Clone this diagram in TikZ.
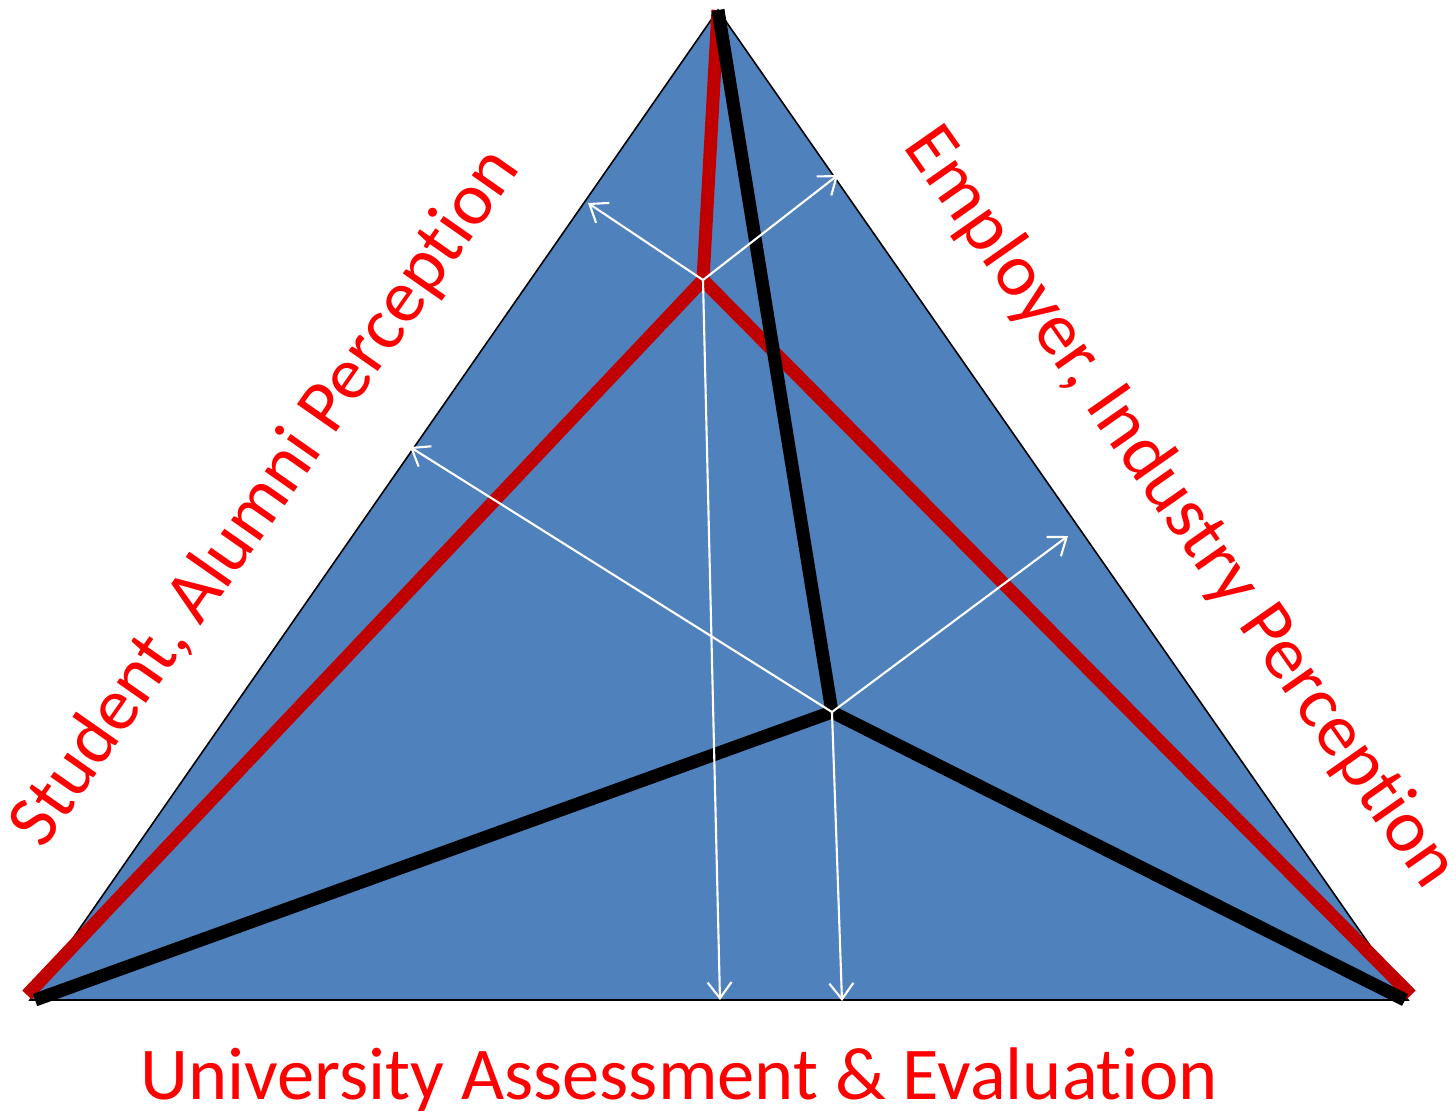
\documentclass[tikz,border=0pt]{standalone}
\usepackage{fontspec}
\setmainfont[Ligatures=NoCommon]{Carlito}
\usepackage{tikz}
\usetikzlibrary{arrows.meta}
\definecolor{fillblue}{HTML}{4F81BD}
\definecolor{darkred}{HTML}{C00000}
\definecolor{textred}{HTML}{FF0000}
\begin{document}
\begin{tikzpicture}[x=0.01cm,y=-0.01cm,
  side/.style={draw=black,line width=0.45pt,fill=fillblue},
  redpath/.style={darkred,line width=3.7pt},
  blackpath/.style={black,line width=3.7pt},
  normal/.style={white,line width=0.6pt,-{Straight Barb[length=1.6mm,width=2.4mm,line width=0.6pt]}},
  label/.style={textred,font=\fontsize{21.2}{25}\selectfont,inner sep=0pt}]
\useasboundingbox (0,0) rectangle (1456,1117);
\coordinate (top) at (718,10);
\coordinate (bl) at (30,1000);
\coordinate (br) at (1408,1000);
\coordinate (r) at (703,280);
\coordinate (k) at (832,712);
\filldraw[side] (top) -- (bl) -- (br) -- cycle;
% red and black paths
\draw[redpath] (top) -- (r);
\draw[redpath] (r) -- (27,995);
\draw[redpath] (r) -- (1411,995);
\draw[blackpath] (top) -- (k);
\draw[blackpath] (k) -- (35,1000);
\draw[blackpath] (k) -- (1405,1000);
% normals
\coordinate (r1) at (588,203);
\coordinate (r2) at (838,175);
\coordinate (r3) at (720,1000);
\coordinate (k1) at (410,447);
\coordinate (k2) at (1068,536);
\coordinate (k3) at (842,1001);
\draw[normal] (r) -- (r1);
\draw[normal] (r) -- (r2);
\draw[normal] (r) -- (r3);
\draw[normal] (k) -- (k1);
\draw[normal] (k) -- (k2);
\draw[normal] (k) -- (k3);
% labels
\node[label,rotate=55] (student) at (266,498) {Student, Alumni Perception};
\node[label,rotate=-55] (employer) at (1180,508) {Employer, Industry Perception};
\node[label] (university) at (679,1080) {University Assessment \& Evaluation};
\end{tikzpicture}
\end{document}
